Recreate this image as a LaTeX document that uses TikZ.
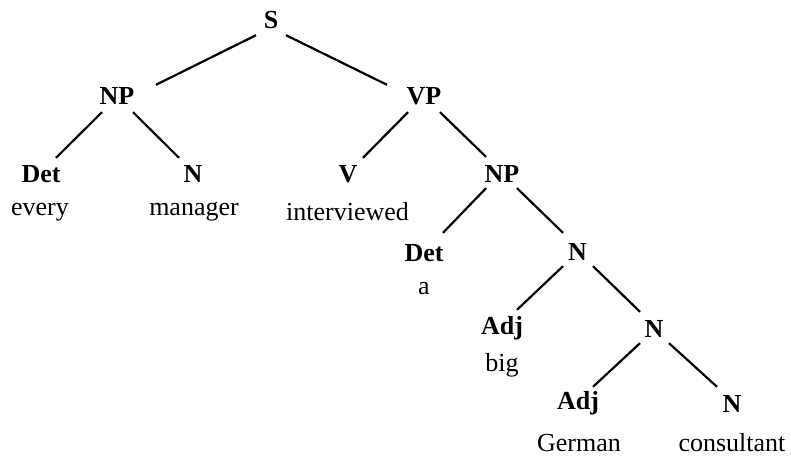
\documentclass[tikz,border=0pt]{standalone}
\usepackage{fontspec}
\setmainfont{Liberation Serif}
\usetikzlibrary{calc}
\begin{document}
\begin{tikzpicture}[x=1pt, y=-1pt,
  font=\fontsize{26}{30}\selectfont,
  cat/.style={font=\fontsize{26}{30}\selectfont\bfseries, anchor=base, inner sep=0pt,
              text height=17pt, text depth=0pt},
  word/.style={anchor=base, inner sep=0pt},
  branch/.style={line width=2.2pt}]
\useasboundingbox (0,0) rectangle (791,457);

% category labels
\node[cat] (S)    at (271,29)  {S};
\node[cat] (NPa)  at (117,105) {NP};
\node[cat] (VP)   at (424,105) {VP};
\node[cat] (DetA) at (41,182)  {Det};
\node[cat] (Na)   at (193,182) {N};
\node[cat] (V)    at (348,182) {V};
\node[cat] (NPb)  at (502,182) {NP};
\node[cat] (DetB) at (424,261) {Det};
\node[cat] (Nb)   at (577.5,260) {N};
\node[cat] (AdjA) at (502,334) {Adj};
\node[cat] (Nc)   at (654,337) {N};
\node[cat] (AdjB) at (578,409) {Adj};
\node[cat] (Nd)   at (732,412) {N};

% words
\node[word] (w1) at (40,215)    {every};
\node[word] (w2) at (194,215)   {manager};
\node[word] (w3) at (347.5,220) {interviewed};
\node[word] (w4) at (424,294)   {a};
\node[word] (w5) at (502,371)   {big};
\node[word] (w6) at (579,451)   {German};
\node[word] (w7) at (732,451)   {consultant};

% branches
\draw[branch] ($(S.south)+(-15,6)$)    -- ($(NPa.north)+(39,-3)$);
\draw[branch] ($(S.south)+(15,6)$)     -- ($(VP.north)+(-37,-3)$);
\draw[branch] ($(NPa.south)+(-15,7)$)  -- ($(DetA.north)+(15,-7)$);
\draw[branch] ($(NPa.south)+(16,7)$)   -- ($(Na.north)+(-14,-7)$);
\draw[branch] ($(VP.south)+(-16,7)$)   -- ($(V.north)+(15,-7)$);
\draw[branch] ($(VP.south)+(16,7)$)    -- ($(NPb.north)+(-16,-8)$);
\draw[branch] ($(NPb.south)+(-16,6)$)  -- ($(DetB.north)+(19,-11)$);
\draw[branch] ($(NPb.south)+(15,6)$)   -- ($(Nb.north)+(-14.5,-10)$);
\draw[branch] ($(Nb.south)+(-14.5,6)$) -- ($(AdjA.north)+(15,-7)$);
\draw[branch] ($(Nb.south)+(15.5,6)$)  -- ($(Nc.north)+(-14,-8)$);
\draw[branch] ($(Nc.south)+(-14,6)$)   -- ($(AdjB.north)+(15,-5)$);
\draw[branch] ($(Nc.south)+(15,6)$)    -- ($(Nd.north)+(-15,-8)$);
\end{tikzpicture}
\end{document}
